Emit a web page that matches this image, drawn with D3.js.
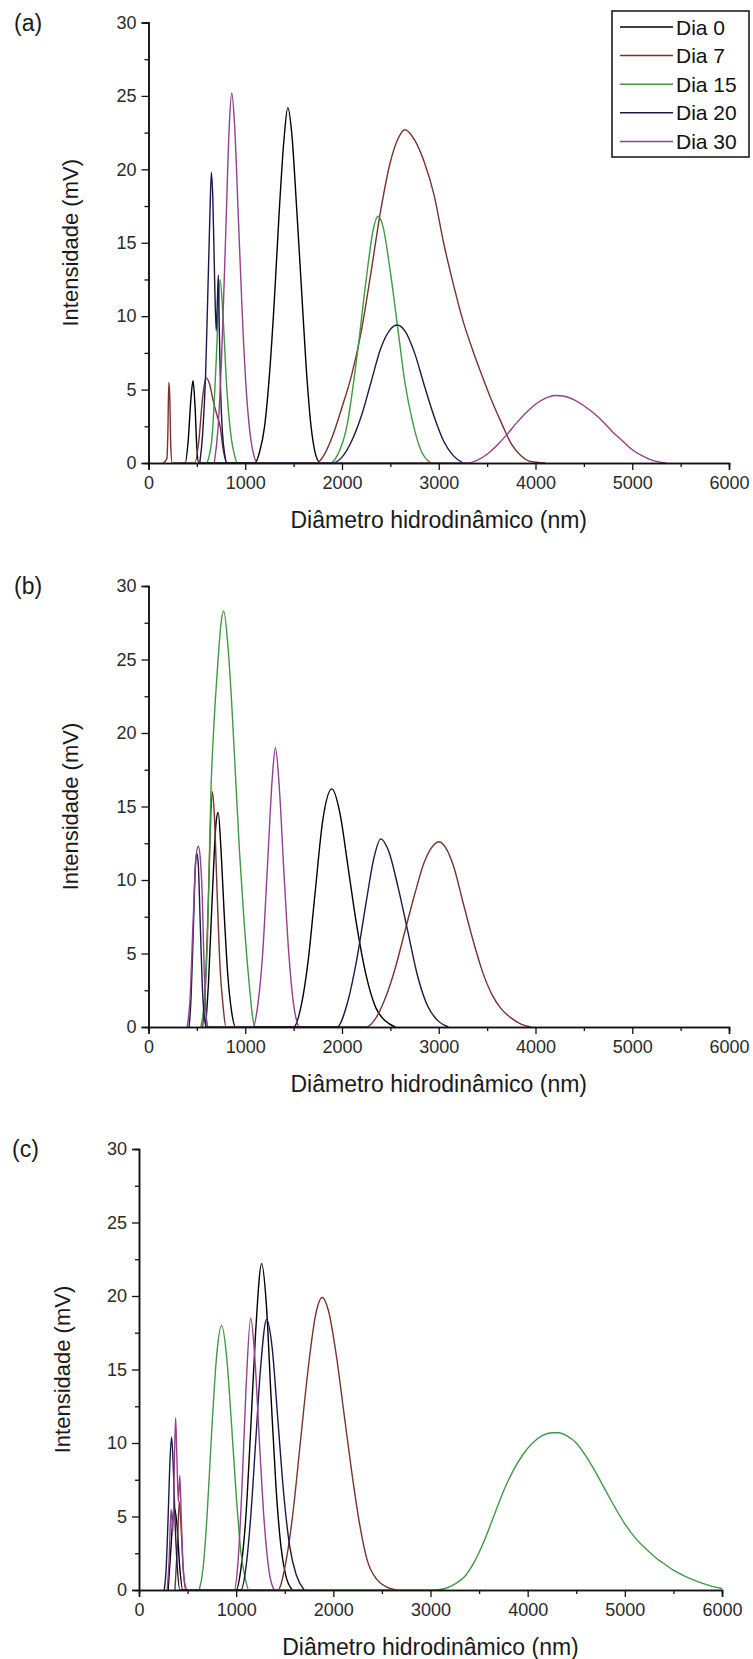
<!DOCTYPE html>
<html>
<head>
<meta charset="utf-8">
<script src="https://cdn.jsdelivr.net/npm/d3@7"></script>
<style>
  html, body { margin: 0; padding: 0; background: #fff; }
  svg { display: block; }
  text { font-family: "Liberation Sans", Arial, sans-serif; }
</style>
</head>
<body>
<svg id="chart" width="753" height="1659"></svg>
<script>
// ---------------- DATA ----------------
const seriesNames = ["Dia 0", "Dia 7", "Dia 15", "Dia 20", "Dia 30"];
const seriesColors = ["#000000", "#7a332c", "#3f9a45", "#1a1a4a", "#93408f"];
const xTickValues = [0, 1000, 2000, 3000, 4000, 5000, 6000];
const yTickValues = [0, 5, 10, 15, 20, 25, 30];
const panelLabels = ["(a)", "(b)", "(c)"];
const xTitle = "Diâmetro hidrodinâmico (nm)";
const yTitle = "Intensidade (mV)";

// Panel (a)
const a_dia0 = [[350,0],[380,0],[410,1.5],[440,4.5],[460,5.6],[480,4],[500,1],[520,0],
  [1100,0],[1150,0.8],[1200,2.5],[1250,6],[1300,11],[1350,17],[1400,22],[1440,24.2],[1480,22.5],[1530,17.5],[1580,12],[1630,6.5],[1680,2.5],[1730,0.5],[1770,0]];
const a_dia7 = [[150,0],[190,0.3],[200,2],[210,5.5],[220,4.5],[230,1.2],[245,0],
  [480,0],[520,1.5],[560,4.5],[595,5.8],[630,5.4],[670,4.2],[710,3.2],[740,2.5],[775,0.8],[810,0],
  [1740,0],[1820,0.6],[1900,1.8],[2000,3.8],[2100,6],[2200,9],[2300,13],[2400,17.2],[2500,20.5],[2580,22.1],[2650,22.7],
  [2750,22],[2850,20.5],[2950,18.3],[3050,15],[3150,12.2],[3250,9.7],[3350,7.7],[3450,5.9],[3550,4.2],[3650,2.7],[3750,1.3],[3850,0.5],[3950,0.1],[4100,0]];
const a_dia15 = [[600,0],[620,0.3],[660,2],[700,7],[740,12.5],[770,10],[810,5],[850,2],[890,0.5],[920,0],
  [1880,0],[1950,0.5],[2050,2.5],[2150,7],[2250,12.5],[2320,15.8],[2370,16.8],[2420,16.2],[2500,13],[2580,9],[2650,5.5],[2730,2.8],[2820,0.8],[2920,0]];
const a_dia20 = [[530,0],[560,2],[590,6],[615,12],[635,17],[650,19.8],[665,18],[685,12],[700,9],[712,11],[722,12.8],[732,9],[745,5],[765,2],[790,0.5],[810,0],
  [1900,0],[2000,0.4],[2100,1.5],[2200,3.2],[2300,5.5],[2400,7.8],[2500,9.1],[2570,9.4],[2650,9],[2750,7.5],[2850,5.3],[2950,3.2],[3050,1.5],[3150,0.5],[3250,0]];
const a_dia30 = [[680,0],[720,2.5],[760,8],[800,16],[835,23],[860,25.2],[890,23],[930,16.5],[970,10],[1010,5],[1050,2],[1090,0.5],[1120,0],
  [3300,0],[3400,0.2],[3500,0.6],[3600,1.2],[3700,1.9],[3800,2.7],[3900,3.4],[4000,4.0],[4100,4.4],[4200,4.6],[4300,4.55],[4400,4.3],[4500,3.9],[4600,3.4],[4700,2.8],[4800,2.1],[4900,1.5],[5000,0.9],[5100,0.5],[5200,0.2],[5350,0]];

// Panel (b)
const b_dia0 = [[590,0],[620,3],[660,9],[700,14],[720,14.6],[750,12],[780,8],[820,3.5],[860,1],[900,0],
  [1500,0],[1580,1.5],[1650,4.5],[1720,9],[1800,14],[1895,16.2],[1980,14.5],[2060,11],[2150,7],[2250,3.5],[2350,1.3],[2450,0.4],[2550,0]];
const b_dia7 = [[560,0],[590,3],[620,9],[645,14.5],[660,16],[680,14.5],[710,9],[740,4],[770,1.5],[800,0],
  [2250,0],[2350,0.6],[2450,2],[2550,4],[2650,6.5],[2750,9],[2850,11.2],[2950,12.4],[3000,12.6],[3050,12.4],[3150,11],[3250,8.5],[3350,6],[3450,3.8],[3550,2.2],[3650,1.2],[3750,0.6],[3850,0.2],[3950,0]];
const b_dia15 = [[540,0],[580,2],[610,6],[645,16],[680,21],[714,24.5],[750,27.5],[777,28.3],[820,26],[860,22],[900,17],[940,12],[990,7],[1040,3],[1080,0.5],[1100,0]];
const b_dia20 = [[420,0],[440,2],[465,7],[485,11],[500,11.8],[515,11],[535,7],[555,3],[580,0.5],[600,0],
  [1950,0],[2050,1.5],[2150,4.5],[2250,8.5],[2330,11.5],[2400,12.8],[2480,12],[2580,9.5],[2680,6.5],[2780,3.5],[2880,1.5],[2980,0.5],[3100,0]];
const b_dia30 = [[400,0],[430,2],[460,7],[490,11.5],[515,12.3],[535,11.5],[555,9],[575,4],[600,0.5],[620,0],
  [1080,0],[1130,1.5],[1180,5],[1230,11],[1280,17],[1312,19],[1350,16.5],[1400,10.5],[1450,5],[1500,1.5],[1550,0]];

// Panel (c)
const c_dia0 = [[300,0],[330,3],[360,5.6],[390,4.5],[420,1.5],[450,0],
  [1000,0],[1050,1.5],[1100,5],[1150,11],[1200,17.5],[1262,22.2],[1310,19.5],[1360,13],[1410,7],[1460,3],[1510,1],[1580,0]];
const c_dia7 = [[370,0],[395,3],[415,6],[435,4],[455,1.5],[480,0],
  [1430,0],[1500,1.5],[1580,5],[1660,10],[1740,15],[1820,18.8],[1886,19.9],[1950,19],[2030,16],[2110,12],[2190,8],[2270,4.5],[2350,2],[2450,0.7],[2550,0.2],[2650,0]];
const c_dia15 = [[620,0],[660,1.5],[700,5],[750,11],[800,16],[850,18],[900,16],[950,11.5],[1000,6.5],[1050,2.5],[1100,0.6],[1130,0],
  [3050,0],[3150,0.1],[3250,0.4],[3350,0.9],[3450,1.9],[3550,3.3],[3650,5],[3750,6.7],[3850,8.1],[3950,9.2],[4050,10],[4150,10.5],[4250,10.7],[4320,10.7],
  [4400,10.5],[4500,10],[4600,9.1],[4700,8],[4800,6.8],[4900,5.6],[5000,4.5],[5100,3.6],[5200,2.9],[5300,2.3],[5400,1.8],[5500,1.35],[5600,1],[5700,0.7],[5800,0.45],[5900,0.25],[6000,0.1]];
const c_dia20 = [[260,0],[280,1.5],[300,5],[320,9],[336,10.4],[355,8],[375,4],[395,1.5],[420,0],
  [1050,0],[1100,1.5],[1150,5],[1200,10],[1250,15],[1313,18.4],[1370,16.5],[1430,11.5],[1490,6.5],[1550,3],[1620,1],[1700,0]];
const c_dia30 = [[290,0],[310,2],[330,5.5],[350,4],[365,9],[377,11.7],[390,9],[405,6],[420,7.8],[435,5],[450,2],[470,0.5],[500,0],
  [980,0],[1020,2],[1060,7],[1100,13.5],[1150,18.5],[1190,16],[1240,10],[1290,4.5],[1340,1.2],[1390,0]];

const panelSeries = [
  [a_dia0, a_dia7, a_dia15, a_dia20, a_dia30],
  [b_dia0, b_dia7, b_dia15, b_dia20, b_dia30],
  [c_dia0, c_dia7, c_dia15, c_dia20, c_dia30]
];

// ---------------- LAYOUT ----------------
const layout = [
  { left: 148.5, right: 729, top: 22.5, bottom: 463, ytx: 78 },
  { left: 148.5, right: 729, top: 586, bottom: 1027, ytx: 78 },
  { left: 139, right: 722, top: 1149, bottom: 1590, ytx: 70 }
];

const svg = d3.select("#chart");
svg.append("rect").attr("width", 753).attr("height", 1659).attr("fill", "#fff");

layout.forEach((L, pi) => {
  const x = d3.scaleLinear().domain([0, 6000]).range([L.left, L.right]);
  const y = d3.scaleLinear().domain([0, 30]).range([L.bottom, L.top]);
  const g = svg.append("g");

  const line = d3.line().x(d => x(d[0])).y(d => y(d[1])).curve(d3.curveMonotoneX);
  panelSeries[pi].forEach((s, si) => {
    g.append("path").datum(s)
      .attr("d", line)
      .attr("fill", "none")
      .attr("stroke", seriesColors[si])
      .attr("stroke-width", 1.4)
      .attr("stroke-linejoin", "round");
  });

  // axes
  const xAxis = d3.axisBottom(x).tickValues(xTickValues).tickSize(7).tickPadding(6).tickFormat(d3.format("d"));
  const yAxis = d3.axisLeft(y).tickValues(yTickValues).tickSize(7).tickPadding(5).tickFormat(d3.format("d"));
  const xMinor = d3.axisBottom(x).tickValues(d3.range(500, 6000, 1000)).tickSize(4).tickFormat("");
  const yMinor = d3.axisLeft(y).tickValues(d3.range(2.5, 30, 5)).tickSize(4).tickFormat("");

  const gx = g.append("g").attr("transform", `translate(0,${L.bottom})`).call(xAxis);
  g.append("g").attr("transform", `translate(0,${L.bottom})`).call(xMinor);
  const gy = g.append("g").attr("transform", `translate(${L.left},0)`).call(yAxis);
  g.append("g").attr("transform", `translate(${L.left},0)`).call(yMinor);

  g.selectAll(".domain").attr("stroke", "#111").attr("stroke-width", 1.5);
  g.selectAll(".tick line").attr("stroke", "#111").attr("stroke-width", 1.3);
  gx.selectAll("text").attr("font-size", 18).attr("fill", "#2a2a2a")
    .attr("font-family", "'Liberation Sans', Arial, sans-serif");
  gy.selectAll("text").attr("font-size", 18).attr("fill", "#2a2a2a")
    .attr("font-family", "'Liberation Sans', Arial, sans-serif");

  // titles
  g.append("text")
    .attr("x", (L.left + L.right) / 2).attr("y", L.bottom + 65)
    .attr("text-anchor", "middle").attr("font-size", 23).attr("fill", "#1a1a1a")
    .text(xTitle);
  g.append("text")
    .attr("transform", `translate(${L.ytx},${(L.top + L.bottom) / 2}) rotate(-90)`)
    .attr("text-anchor", "middle").attr("font-size", 22).attr("fill", "#1a1a1a")
    .text(yTitle);
  g.append("text")
    .attr("x", pi === 2 ? 12 : 14).attr("y", L.top + 8)
    .attr("font-size", 23).attr("fill", "#1a1a1a")
    .text(panelLabels[pi]);

  // legend only in (a)
  if (pi === 0) {
    const lg = g.append("g");
    lg.append("rect").attr("x", 612).attr("y", 11).attr("width", 137).attr("height", 146)
      .attr("fill", "#fff").attr("stroke", "#111").attr("stroke-width", 1.5);
    seriesNames.forEach((n, i) => {
      const cy = 27 + i * 28.6;
      lg.append("line").attr("x1", 620).attr("x2", 673).attr("y1", cy).attr("y2", cy)
        .attr("stroke", seriesColors[i]).attr("stroke-width", 1.5);
      lg.append("text").attr("x", 676).attr("y", cy + 7.5).attr("font-size", 21).attr("fill", "#111").text(n);
    });
  }
});
</script>
</body>
</html>
